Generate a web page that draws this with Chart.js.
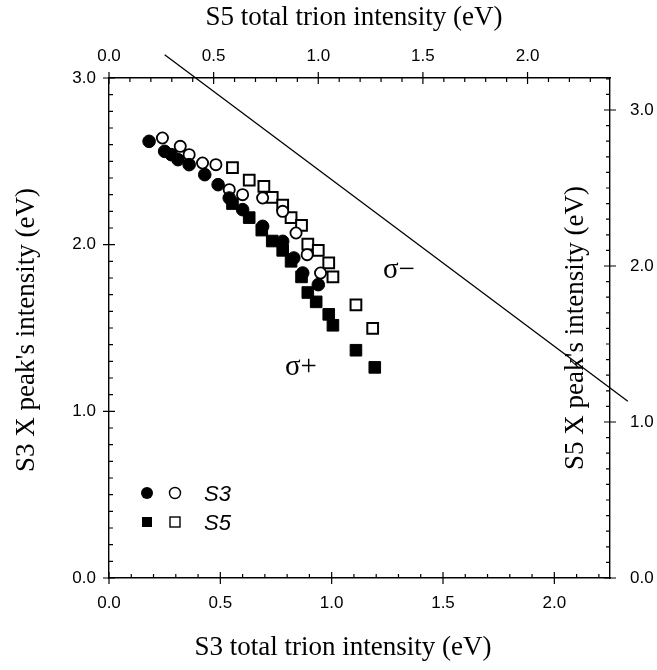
<!DOCTYPE html>
<html>
<head>
<meta charset="utf-8">
<script src="https://cdn.jsdelivr.net/npm/chart.js@4.4.0/dist/chart.umd.min.js"></script>
<style>
  body { margin: 0; background: #fff; }
  #wrap { width: 657px; height: 670px; position: relative; }
</style>
</head>
<body>
<div id="wrap"><canvas id="myChart"></canvas></div>
<script>
// S3, sigma+ (filled circles) - bottom / left axes
const s3PlusX = [0.18, 0.25, 0.28, 0.31, 0.36, 0.43, 0.49, 0.54, 0.60, 0.69, 0.78, 0.83, 0.87, 0.94];
const s3PlusY = [2.62, 2.56, 2.54, 2.51, 2.48, 2.42, 2.36, 2.28, 2.21, 2.11, 2.02, 1.92, 1.83, 1.76];
// S3, sigma- (open circles)
const s3MinusX = [0.24, 0.32, 0.36, 0.42, 0.48, 0.54, 0.60, 0.69, 0.78, 0.84, 0.89, 0.95];
const s3MinusY = [2.64, 2.59, 2.54, 2.49, 2.48, 2.33, 2.30, 2.28, 2.20, 2.07, 1.94, 1.83];
// S5, sigma+ (filled squares) - top / right axes
const s5PlusX = [0.59, 0.67, 0.73, 0.78, 0.83, 0.87, 0.92, 0.95, 0.99, 1.05, 1.07, 1.18, 1.27];
const s5PlusY = [2.40, 2.31, 2.23, 2.16, 2.10, 2.03, 1.93, 1.83, 1.77, 1.69, 1.62, 1.46, 1.35];
// S5, sigma- (open squares)
const s5MinusX = [0.59, 0.67, 0.74, 0.78, 0.83, 0.87, 0.92, 0.95, 1.00, 1.05, 1.07, 1.18, 1.26];
const s5MinusY = [2.63, 2.55, 2.51, 2.44, 2.39, 2.31, 2.26, 2.14, 2.10, 2.02, 1.93, 1.75, 1.60];
// straight reference line (bottom / left axes)
const lineX = [0.25, 2.33];
const lineY = [3.14, 1.06];

const bottomTicks = [0, 0.5, 1.0, 1.5, 2.0];
const topTicks = [0, 0.5, 1.0, 1.5, 2.0];
const leftTicks = [0, 1.0, 2.0, 3.0];
const rightTicks = [0, 1.0, 2.0, 3.0];

const titleBottom = "S3 total trion intensity (eV)";
const titleTop = "S5 total trion intensity (eV)";
const titleLeft = "S3 X peak's intensity (eV)";
const titleRight = "S5 X peak's intensity (eV)";
const sigmaText = ["σ+", "σ−"];
const sigmaX = [0.79, 1.23];
const sigmaY = [1.22, 1.80];
const legendNames = ["S3", "S5"];

const pts = (xs, ys) => xs.map((x, i) => ({ x: x, y: ys[i] }));
const tickFont = { family: '"Liberation Sans", Arial, sans-serif', size: 17 };
const serif = '"Liberation Serif", "Times New Roman", serif';

function fixedTicks(list) {
  return (s) => { s.ticks = list.map((v) => ({ value: v })); };
}

function axis(pos, min, max, list, size, pad) {
  return {
    type: "linear",
    position: pos,
    min: min,
    max: max,
    afterBuildTicks: fixedTicks(list),
    afterFit: (s) => {
      if (pos === "top" || pos === "bottom") s.height = size;
      else s.width = size;
    },
    grid: { display: false, drawTicks: false },
    border: { display: true, color: "#000", width: 1.4 },
    ticks: {
      padding: pad,
      color: "#000",
      font: tickFont,
      autoSkip: false,
      maxRotation: 0,
      callback: (v) => Number(v).toFixed(1),
    },
  };
}

// inward minor/major tick marks plus texts
const overlay = {
  id: "overlay",
  afterDraw(chart) {
    const { ctx, chartArea: a, scales } = chart;
    ctx.save();
    ctx.strokeStyle = "#000";
    ctx.lineWidth = 1.2;
    ctx.beginPath();
    const marks = (scale, max, every, side) => {
      for (let i = 0; i * 0.1 <= max + 1e-9; i++) {
        const major = i % every === 0;
        const p = scale.getPixelForValue(i * 0.1);
        const inn = major ? 6 : 4, out = major ? 6 : 0;
        if (side === "bottom") { ctx.moveTo(p, a.bottom + out); ctx.lineTo(p, a.bottom - inn); }
        if (side === "top") { ctx.moveTo(p, a.top - out); ctx.lineTo(p, a.top + inn); }
        if (side === "left") { ctx.moveTo(a.left - out, p); ctx.lineTo(a.left + inn, p); }
        if (side === "right") { ctx.moveTo(a.right + out, p); ctx.lineTo(a.right - inn, p); }
      }
    };
    marks(scales.x, scales.x.max, 5, "bottom");
    marks(scales.x2, scales.x2.max, 5, "top");
    marks(scales.y, scales.y.max, 10, "left");
    marks(scales.y2, scales.y2.max, 10, "right");
    ctx.stroke();

    ctx.fillStyle = "#000";
    ctx.font = "27px " + serif;
    ctx.textAlign = "center";
    ctx.textBaseline = "middle";
    ctx.fillText(titleBottom, 343, 648);
    ctx.fillText(titleTop, 354, 18);
    ctx.save();
    ctx.translate(27, 330);
    ctx.rotate(-Math.PI / 2);
    ctx.fillText(titleLeft, 0, 0);
    ctx.restore();
    ctx.save();
    ctx.translate(576, 328);
    ctx.rotate(-Math.PI / 2);
    ctx.fillText(titleRight, 0, 0);
    ctx.restore();

    ctx.textAlign = "left";
    ctx.textBaseline = "alphabetic";
    ctx.font = "29px " + serif;
    sigmaText.forEach((t, i) => {
      ctx.fillText(t, scales.x.getPixelForValue(sigmaX[i]), scales.y.getPixelForValue(sigmaY[i]));
    });

    // legend
    const lx = a.left + 38, ly = a.bottom - 85;
    ctx.lineWidth = 1.4;
    ctx.beginPath(); ctx.arc(lx, ly, 6, 0, Math.PI * 2); ctx.fill();
    ctx.beginPath(); ctx.arc(lx + 28, ly, 5.5, 0, Math.PI * 2); ctx.stroke();
    ctx.fillRect(lx - 5, ly + 24, 10, 10);
    ctx.strokeRect(lx + 23, ly + 24, 10, 10);
    ctx.font = 'italic 22px "Liberation Sans", Arial, sans-serif';
    ctx.fillText(legendNames[0], lx + 57, ly + 8);
    ctx.fillText(legendNames[1], lx + 57, ly + 37);
    ctx.restore();
  },
};

document.addEventListener("DOMContentLoaded", () => {
  const ctx = document.getElementById("myChart").getContext("2d");
  const config = {
    type: "scatter",
    data: {
      datasets: [
        {
          label: "S3 sigma+",
          data: pts(s3PlusX, s3PlusY),
          xAxisID: "x", yAxisID: "y",
          pointStyle: "circle", pointRadius: 6.3,
          backgroundColor: "#000", borderColor: "#000", borderWidth: 1,
        },
        {
          label: "S3 sigma-",
          data: pts(s3MinusX, s3MinusY),
          xAxisID: "x", yAxisID: "y",
          pointStyle: "circle", pointRadius: 5.6,
          backgroundColor: "#fff", borderColor: "#000", borderWidth: 1.8,
        },
        {
          label: "S5 sigma+",
          data: pts(s5PlusX, s5PlusY),
          xAxisID: "x2", yAxisID: "y2",
          pointStyle: "rect", pointRadius: 8.2,
          backgroundColor: "#000", borderColor: "#000", borderWidth: 1,
        },
        {
          label: "S5 sigma-",
          data: pts(s5MinusX, s5MinusY),
          xAxisID: "x2", yAxisID: "y2",
          pointStyle: "rect", pointRadius: 7.6,
          backgroundColor: "#fff", borderColor: "#000", borderWidth: 2,
        },
        {
          label: "line",
          data: pts(lineX, lineY),
          xAxisID: "x", yAxisID: "y",
          showLine: true, pointRadius: 0,
          borderColor: "#000", borderWidth: 1.3,
          clip: false,
        },
      ],
    },
    options: {
      responsive: true,
      maintainAspectRatio: false,
      animation: false,
      layout: { padding: 0 },
      plugins: { legend: { display: false }, tooltip: { enabled: false } },
      scales: {
        x: axis("bottom", 0, 2.25, bottomTicks, 92, 15),
        x2: axis("top", 0, 2.394, topTicks, 78, 11),
        y: axis("left", 0, 3, leftTicks, 109, 13),
        y2: axis("right", 0, 3.205, rightTicks, 47, 20),
      },
    },
    plugins: [overlay],
  };
  new Chart(ctx, config);
});
</script>
</body>
</html>
